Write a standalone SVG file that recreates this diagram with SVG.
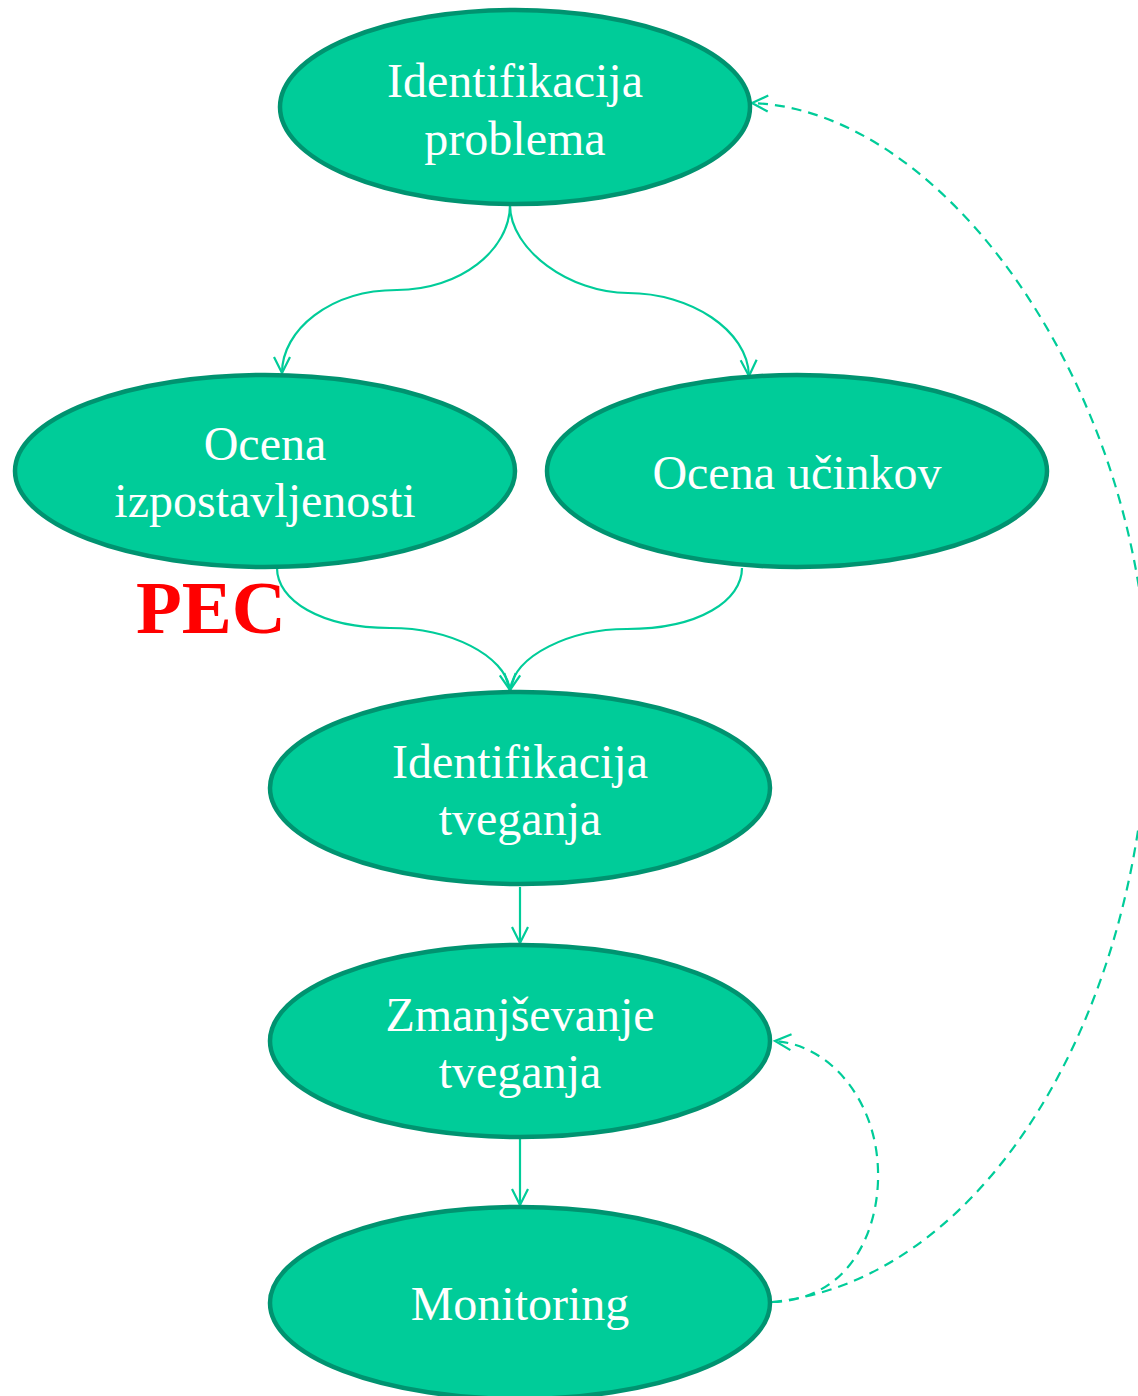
<svg xmlns="http://www.w3.org/2000/svg" width="1138" height="1396" viewBox="0 0 1138 1396">
  <style>
    .node ellipse { fill: #00CC99; stroke: #009370; stroke-width: 4.5; }
    .node text { font-family: "Liberation Serif", "Times New Roman", serif; font-size: 48px; fill: #FFFFFF; text-anchor: middle; }
    .edge { fill: none; stroke: #00CC99; stroke-width: 2.2; }
    .dash { stroke-dasharray: 10 7; }
    .pec { font-family: "Liberation Serif", "Times New Roman", serif; font-size: 75px; font-weight: bold; fill: #FF0000; }
  </style>
  <defs>
    <marker id="arrow" viewBox="0 0 20 20" refX="18" refY="10" markerWidth="20" markerHeight="20" markerUnits="userSpaceOnUse" orient="auto">
      <path d="M2,2 L18,10 L2,18" fill="none" stroke="#00CC99" stroke-width="2.2"/>
    </marker>
  </defs>

  <g id="connectors">
    <path class="edge" d="M510,205 C510,250 460,290 397,290 C330,290 282,330 282,373" marker-end="url(#arrow)"/>
    <path class="edge" d="M510,205 C510,250 570,293 628,293 C690,293 748,330 749,376" marker-end="url(#arrow)"/>
    <path class="edge" d="M277,568 C277,600 320,628 390,628 C450,628 505,655 510,690" marker-end="url(#arrow)"/>
    <path class="edge" d="M742,568 C742,600 700,629 627,629 C570,629 515,655 510,690" marker-end="url(#arrow)"/>
    <path class="edge" d="M520,887 L520,943" marker-end="url(#arrow)"/>
    <path class="edge" d="M520,1139 L520,1205" marker-end="url(#arrow)"/>
    <path class="edge dash" d="M772,1302 C850,1300 880,1230 878,1170 C876,1100 830,1045 775,1041" marker-end="url(#arrow)"/>
    <path class="edge dash" d="M772,1302 C990,1280 1148,1000 1148,700 C1148,400 950,110 752,103" marker-end="url(#arrow)"/>
  </g>

  <g id="node-identifikacija-problema" class="node">
    <ellipse cx="515" cy="107" rx="235" ry="97"/>
    <text x="515" y="97">Identifikacija</text>
    <text x="515" y="155">problema</text>
  </g>
  <g id="node-ocena-izpostavljenosti" class="node">
    <ellipse cx="265" cy="471" rx="250" ry="96"/>
    <text x="265" y="460">Ocena</text>
    <text x="265" y="517">izpostavljenosti</text>
  </g>
  <g id="node-ocena-ucinkov" class="node">
    <ellipse cx="797" cy="471" rx="250" ry="96"/>
    <text x="797" y="489">Ocena učinkov</text>
  </g>
  <g id="node-identifikacija-tveganja" class="node">
    <ellipse cx="520" cy="788" rx="250" ry="96"/>
    <text x="520" y="778">Identifikacija</text>
    <text x="520" y="835">tveganja</text>
  </g>
  <g id="node-zmanjsevanje-tveganja" class="node">
    <ellipse cx="520" cy="1041" rx="250" ry="96"/>
    <text x="520" y="1031">Zmanjševanje</text>
    <text x="520" y="1088">tveganja</text>
  </g>
  <g id="node-monitoring" class="node">
    <ellipse cx="520" cy="1303" rx="250" ry="96"/>
    <text x="520" y="1320">Monitoring</text>
  </g>

  <text class="pec" x="136" y="633">PEC</text>
</svg>
